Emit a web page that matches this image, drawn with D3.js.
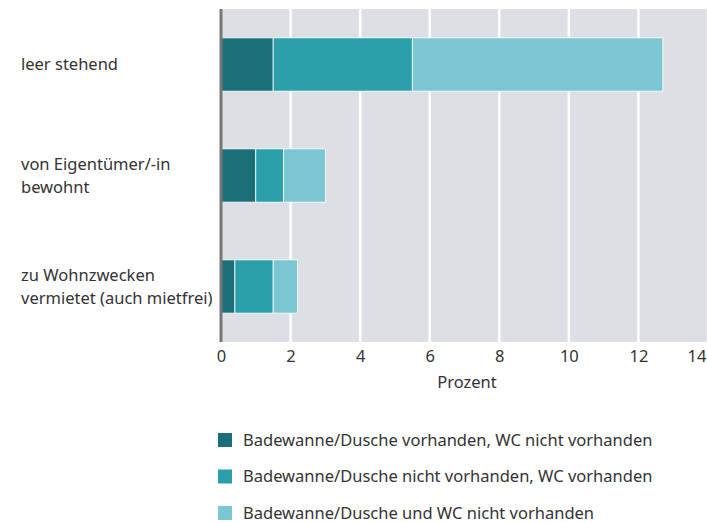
<!DOCTYPE html>
<html>
<head>
<meta charset="utf-8">
<script src="https://cdn.jsdelivr.net/npm/d3@7"></script>
<style>
  body { margin: 0; background: #fff; }
  text { font-family: "Source Sans Pro", "Noto Sans", sans-serif; fill: #333; }
</style>
</head>
<body>
<div id="chart"></div>
<script>
// data
var categories = ["leer stehend", "von Eigentümer/-in\nbewohnt", "zu Wohnzwecken\nvermietet (auch mietfrei)"];
var seriesNames = [
  "Badewanne/Dusche vorhanden, WC nicht vorhanden",
  "Badewanne/Dusche nicht vorhanden, WC vorhanden",
  "Badewanne/Dusche und WC nicht vorhanden"
];
var bathOnly = [1.5, 1.0, 0.4];
var wcOnly = [4.0, 0.8, 1.1];
var neither = [7.2, 1.2, 0.7];
var xTicks = [0, 2, 4, 6, 8, 10, 12, 14];

var colors = ["#1b6f79", "#2a9fa9", "#7ac7d3"];
var fontSize = "16.5px";

var svgWidth = 707, svgHeight = 523;
var margin = { top: 9, bottom: 181, left: 221 };
var width = 487;
var height = svgHeight - margin.top - margin.bottom;

var svg = d3.select("#chart").append("svg")
  .attr("width", svgWidth)
  .attr("height", svgHeight);

var g = svg.append("g")
  .attr("transform", `translate(${margin.left}, ${margin.top})`);

// build table for stacking
var table = categories.map(function(c, i) {
  return { cat: c, s0: bathOnly[i], s1: wcOnly[i], s2: neither[i] };
});
var stack = d3.stack().keys(["s0", "s1", "s2"])(table);

var xScale = d3.scaleLinear().domain([0, 14]).range([0, width]);
var yScale = d3.scaleBand().domain(categories).range([0, height]).paddingInner(0.52).paddingOuter(0.26);

// background
g.append("rect")
  .attr("x", 0).attr("y", 0)
  .attr("width", width).attr("height", height)
  .attr("fill", "#dce0e4");

// gridlines
g.selectAll(".grid")
  .data(xTicks.slice(1))
  .enter().append("line")
  .attr("x1", d => xScale(d)).attr("x2", d => xScale(d))
  .attr("y1", 0).attr("y2", height)
  .attr("stroke", "#fff")
  .attr("stroke-width", 2.5);

// bars
g.selectAll(".series")
  .data(stack)
  .enter().append("g")
  .attr("fill", (d, i) => colors[i])
  .selectAll("rect")
  .data(d => d)
  .enter().append("rect")
  .attr("x", d => xScale(d[0]))
  .attr("y", d => yScale(d.data.cat))
  .attr("width", d => xScale(d[1]) - xScale(d[0]))
  .attr("height", yScale.bandwidth())
  .attr("stroke", "#fff")
  .attr("stroke-width", 0.8);

// axis line at zero
g.append("line")
  .attr("x1", 0).attr("x2", 0)
  .attr("y1", 0).attr("y2", height)
  .attr("stroke", "#777")
  .attr("stroke-width", 3);

// x axis
var bottomAxis = d3.axisBottom(xScale).tickValues(xTicks).tickSize(0).tickPadding(8);
var xAxis = g.append("g")
  .attr("transform", `translate(0, ${height})`)
  .call(bottomAxis);
xAxis.select(".domain").remove();
xAxis.selectAll("text")
  .style("font-size", fontSize)
  .attr("fill", "#333");
// last label would run off the edge, pull it in
xAxis.selectAll(".tick").filter(d => d === 14).select("text")
  .attr("text-anchor", "end")
  .attr("x", -2);

g.append("text")
  .attr("x", width / 2 + 2.5)
  .attr("y", height + 46)
  .attr("text-anchor", "middle")
  .style("font-size", fontSize)
  .text("Prozent");

// category labels
categories.forEach(function(c) {
  var lines = c.split("\n");
  var cy = yScale(c) + yScale.bandwidth() / 2;
  var t = svg.append("text")
    .attr("x", 21)
    .attr("y", margin.top + cy - (lines.length - 1) * 11.5 + 5.5)
    .style("font-size", fontSize);
  lines.forEach(function(l, j) {
    t.append("tspan").attr("x", 21).attr("dy", j === 0 ? 0 : 23).text(l);
  });
});

// legend
var legend = svg.append("g").attr("transform", "translate(218, 433)");
seriesNames.forEach(function(name, i) {
  var row = legend.append("g").attr("transform", `translate(0, ${i * 36.5})`);
  row.append("rect").attr("width", 14).attr("height", 14).attr("fill", colors[i]);
  row.append("text").attr("x", 25).attr("y", 12.5).style("font-size", fontSize).text(name);
});
</script>
</body>
</html>
